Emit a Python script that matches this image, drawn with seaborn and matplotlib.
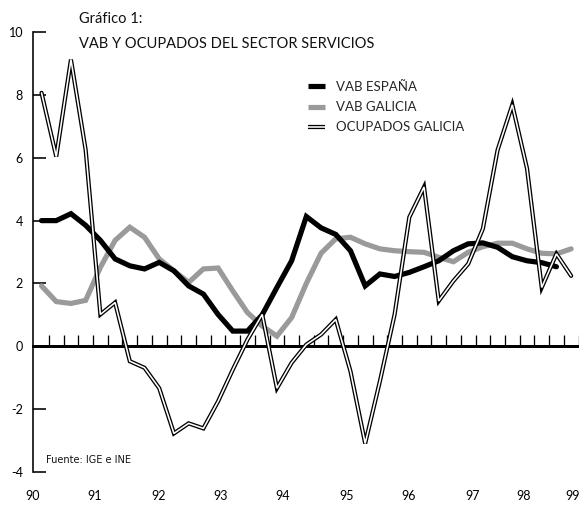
import numpy as np
import pandas as pd
import matplotlib
matplotlib.use("Agg")
import matplotlib.pyplot as plt
from matplotlib.lines import Line2D
import seaborn as sns

# ---------------- data (quarterly, 1990T1 ... 1999T1) ----------------
vab_espana = [4.00, 4.00, 4.22, 3.85, 3.37, 2.78, 2.56, 2.46, 2.67, 2.40,
              1.92, 1.66, 1.01, 0.48, 0.48, 1.00, 1.87, 2.72, 4.13, 3.77,
              3.56, 3.04, 1.92, 2.30, 2.22, 2.35, 2.53, 2.72, 3.04, 3.26,
              3.29, 3.15, 2.85, 2.72, 2.66, 2.53]
vab_galicia = [1.92, 1.42, 1.36, 1.46, 2.51, 3.37, 3.79, 3.47, 2.78, 2.40,
               2.03, 2.46, 2.49, 1.76, 1.07, 0.64, 0.32, 0.91, 2.00, 2.96,
               3.42, 3.47, 3.26, 3.10, 3.04, 3.01, 2.99, 2.83, 2.69, 2.99,
               3.17, 3.28, 3.28, 3.10, 2.96, 2.94, 3.10]
ocupados_galicia = [8.07, 6.04, 9.13, 6.25, 1.01, 1.39, -0.48, -0.69, -1.34, -2.78,
                    -2.46, -2.62, -1.76, -0.75, 0.21, 1.01, -1.34, -0.53, 0.05, 0.37,
                    0.85, -0.80, -3.10, -1.12, 1.01, 4.11, 5.07, 1.44, 2.08, 2.62,
                    3.74, 6.25, 7.69, 5.66, 1.87, 2.94, 2.24]
year_labels = ["90", "91", "92", "93", "94", "95", "96", "97", "98", "99"]
year_label_pos = [-0.58, 3.64, 7.98, 12.19, 16.40, 20.72, 24.95, 29.27, 32.80, 36.10]
y_ticks = [-4, -2, 0, 2, 4, 6, 8, 10]

titulo1 = "Gráfico 1:"
titulo2 = "VAB Y OCUPADOS DEL SECTOR SERVICIOS"
fuente = "Fuente: IGE e INE"
nombres = ["VAB ESPAÑA", "VAB GALICIA", "OCUPADOS GALICIA"]

# ---------------- build tables ----------------
df_esp = pd.DataFrame({"t": np.arange(len(vab_espana)), "v": vab_espana})
df_gal = pd.DataFrame({"t": np.arange(len(vab_galicia)), "v": vab_galicia})
df_ocu = pd.DataFrame({"t": np.arange(len(ocupados_galicia)), "v": ocupados_galicia})
n_cat = len(ocupados_galicia)

sns.set_theme(style="white")
plt.rcParams["font.family"] = ["Lato", "DejaVu Sans"]

W, H, DPI = 579, 507, 100
fig = plt.figure(figsize=(W / DPI, H / DPI), dpi=DPI)
left, right, top, bottom = 33 / W, 578.5 / W, 1 - 32.3 / H, 1 - 471.7 / H
ax = fig.add_axes([left, bottom, right - left, top - bottom])

px = 72 / DPI  # points per pixel
GRAY = "#9a9a9a"

# lines
sns.lineplot(data=df_gal, x="t", y="v", ax=ax, color=GRAY, lw=5.2 * px,
             solid_joinstyle="miter", zorder=3)
sns.lineplot(data=df_esp, x="t", y="v", ax=ax, color="black", lw=5.2 * px,
             solid_joinstyle="miter", zorder=4)
sns.lineplot(data=df_ocu, x="t", y="v", ax=ax, color="black", lw=4.2 * px,
             solid_joinstyle="miter", zorder=5)
sns.lineplot(data=df_ocu, x="t", y="v", ax=ax, color="white", lw=1.6 * px,
             solid_joinstyle="miter", zorder=6)

ax.set_xlim(-0.5, n_cat - 0.5)
ax.set_ylim(-4, 10)
ax.set_xlabel("")
ax.set_ylabel("")

# spines
for s in ["top", "right"]:
    ax.spines[s].set_visible(False)
ax.spines["left"].set_color("black")
ax.spines["left"].set_linewidth(1.6 * px)
ax.spines["bottom"].set_position(("data", 0))
ax.spines["bottom"].set_color("black")
ax.spines["bottom"].set_linewidth(3.0 * px)
ax.spines["bottom"].set_zorder(2)

# y ticks
ax.set_yticks(y_ticks)
ax.set_yticklabels([str(v) for v in y_ticks])
ax.tick_params(axis="y", direction="in", length=13 * px, width=1.6 * px,
               color="black", pad=10 * px, labelsize=9, labelcolor="black",
               left=True)

# x: quarterly minor ticks on zero line, year labels at bottom
ax.set_xticks(np.arange(n_cat) + 0.5, minor=True)
ax.set_xticks(year_label_pos)
ax.set_xticklabels(year_labels)
ax.tick_params(axis="x", which="minor", direction="in", length=11 * px,
               width=1.3 * px, color="black", bottom=True)
ax.tick_params(axis="x", which="major", length=0, pad=144 * px, labelsize=9,
               labelcolor="black", bottom=True)
ax.grid(False)

# titles
fig.text(79 / W, 1 - 19 / H, titulo1, fontsize=10.5, ha="left", va="center",
         color="#111111")
fig.text(79 / W, 1 - 44 / H, titulo2, fontsize=10.5, ha="left", va="center",
         color="#111111")
fig.text(46.5 / W, 1 - 460 / H, fuente, fontsize=7,
         family=["Liberation Sans Narrow", "DejaVu Sans"],
         ha="left", va="center", color="#111111")

# legend
h_esp = Line2D([], [], color="black", lw=5.2 * px, solid_capstyle="butt")
h_gal = Line2D([], [], color=GRAY, lw=5.2 * px, solid_capstyle="butt")
h_ocu = (Line2D([], [], color="black", lw=4.2 * px, solid_capstyle="butt"),
         Line2D([], [], color="white", lw=1.6 * px, solid_capstyle="butt"))
fig.legend([h_esp, h_gal, h_ocu], nombres, loc="upper left",
           bbox_to_anchor=(308 / W, 1 - 81 / H), bbox_transform=fig.transFigure,
           frameon=False, fontsize=9.5, handlelength=1.3, handletextpad=0.85,
           labelspacing=0.62, borderpad=0, borderaxespad=0)

fig.savefig("out.png", dpi=DPI)
